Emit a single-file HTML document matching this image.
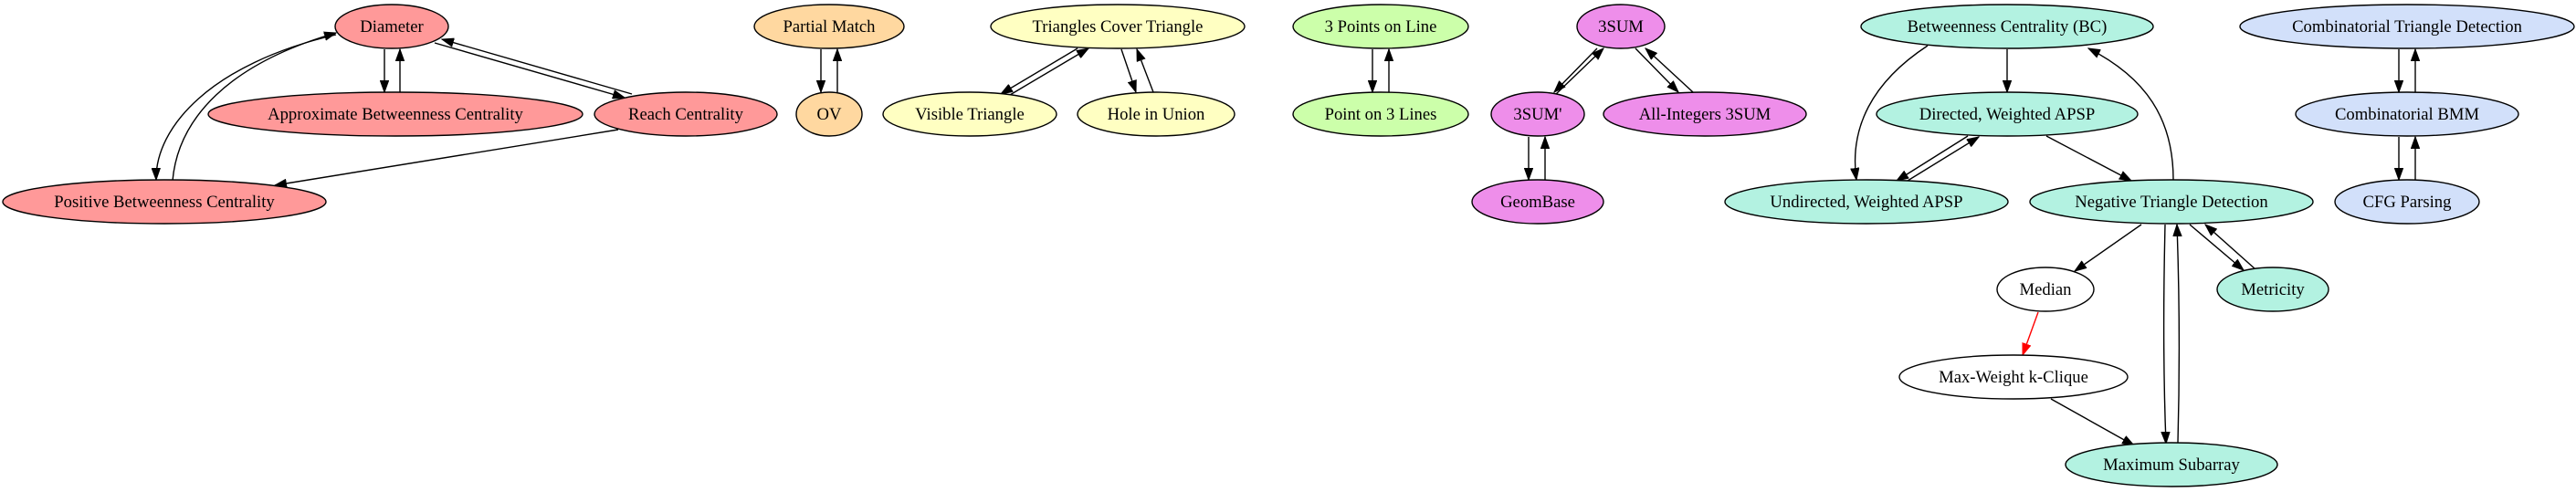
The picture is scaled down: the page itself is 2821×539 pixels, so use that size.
<!DOCTYPE html>
<html><head><meta charset="utf-8"><style>
html,body{margin:0;padding:0;background:#fff;}
svg{display:block;}
text{font-family:"Liberation Serif",serif;font-size:18.67px;text-anchor:middle;fill:#000;}
ellipse{stroke:#000;stroke-width:1.4;}
path{fill:none;stroke:#000;stroke-width:1.4;}
</style></head><body>
<svg width="2821" height="539" viewBox="0 0 2821 539" xmlns="http://www.w3.org/2000/svg">
<defs>
<marker id="a" markerUnits="userSpaceOnUse" markerWidth="14" markerHeight="10" refX="13" refY="5" orient="auto"><path d="M0,0.3 L13,5 L0,9.7 Z" style="fill:#000;stroke:#000;stroke-width:1"/></marker>
<marker id="r" markerUnits="userSpaceOnUse" markerWidth="14" markerHeight="10" refX="13" refY="5" orient="auto"><path d="M0,0.3 L13,5 L0,9.7 Z" style="fill:#f00;stroke:#f00;stroke-width:1"/></marker>
</defs>
<g marker-end="url(#a)">
<!-- left cluster -->
<path d="M421,54 L421,101"/>
<path d="M438,101 L438,54"/>
<path d="M476,47 L684,107"/>
<path d="M692,103 L484,43"/>
<path d="M368,38 C230,70 170,140 171,197"/>
<path d="M189,198 C195,130 250,70 368,36"/>
<path d="M677,142 L301,203"/>
<!-- partial/OV -->
<path d="M899,54 L899,101"/>
<path d="M917,101 L917,54"/>
<!-- triangles -->
<path d="M1180,53 L1096,103"/>
<path d="M1106,104 L1192,53"/>
<path d="M1228,54 L1244,101"/>
<path d="M1263,101 L1245,54"/>
<!-- points -->
<path d="M1503,54 L1503,101"/>
<path d="M1521,101 L1521,54"/>
<!-- 3SUM -->
<path d="M1749,53 L1702,101"/>
<path d="M1703,104 L1756,53"/>
<path d="M1791,53 L1838,101"/>
<path d="M1854,101 L1802,53"/>
<path d="M1674,150 L1674,197"/>
<path d="M1692,197 L1692,150"/>
<!-- right cluster -->
<path d="M2198,54 L2198,101"/>
<path d="M2111,50 C2050,90 2025,140 2033,197"/>
<path d="M2155,149 L2077,198"/>
<path d="M2089,198 L2167,150"/>
<path d="M2241,149 L2334,198"/>
<path d="M2380,197 C2380,130 2350,85 2287,53"/>
<path d="M2345,246 L2272,297"/>
<path d="M2398,246 L2457,296"/>
<path d="M2470,295 L2415,246"/>
<path d="M2371,246 C2369,330 2369,410 2372,486"/>
<path d="M2385,485 C2387,410 2387,330 2384,246"/>
<path d="M2246,437 L2337,488"/>
<!-- blue -->
<path d="M2627,54 L2627,101"/>
<path d="M2645,101 L2645,54"/>
<path d="M2627,150 L2627,197"/>
<path d="M2645,197 L2645,150"/>
</g>
<path d="M2232,342 L2215,389" style="stroke:#f00" marker-end="url(#r)"/>

<g>
<ellipse cx="429" cy="29" rx="62" ry="24" fill="#ff9999"/><text x="429" y="35">Diameter</text>
<ellipse cx="433" cy="125" rx="205" ry="24" fill="#ff9999"/><text x="433" y="131">Approximate Betweenness Centrality</text>
<ellipse cx="751" cy="125" rx="100" ry="24" fill="#ff9999"/><text x="751" y="131">Reach Centrality</text>
<ellipse cx="180" cy="221" rx="177" ry="24" fill="#ff9999"/><text x="180" y="227">Positive Betweenness Centrality</text>
<ellipse cx="908" cy="29" rx="82" ry="24" fill="#ffd8a0"/><text x="908" y="35">Partial Match</text>
<ellipse cx="908" cy="125" rx="36" ry="24" fill="#ffd8a0"/><text x="908" y="131">OV</text>
<ellipse cx="1224" cy="29" rx="139" ry="24" fill="#ffffc2"/><text x="1224" y="35">Triangles Cover Triangle</text>
<ellipse cx="1062" cy="125" rx="95" ry="24" fill="#ffffc2"/><text x="1062" y="131">Visible Triangle</text>
<ellipse cx="1266" cy="125" rx="86" ry="24" fill="#ffffc2"/><text x="1266" y="131">Hole in Union</text>
<ellipse cx="1512" cy="29" rx="96" ry="24" fill="#ccffaa"/><text x="1512" y="35">3 Points on Line</text>
<ellipse cx="1512" cy="125" rx="96" ry="24" fill="#ccffaa"/><text x="1512" y="131">Point on 3 Lines</text>
<ellipse cx="1775" cy="29" rx="48" ry="24" fill="#ee8eea"/><text x="1775" y="35">3SUM</text>
<ellipse cx="1684" cy="125" rx="51" ry="24" fill="#ee8eea"/><text x="1684" y="131">3SUM'</text>
<ellipse cx="1867" cy="125" rx="111" ry="24" fill="#ee8eea"/><text x="1867" y="131">All-Integers 3SUM</text>
<ellipse cx="1684" cy="221" rx="72" ry="24" fill="#ee8eea"/><text x="1684" y="227">GeomBase</text>
<ellipse cx="2198" cy="29" rx="160" ry="24" fill="#b3f2e1"/><text x="2198" y="35">Betweenness Centrality (BC)</text>
<ellipse cx="2198" cy="125" rx="143" ry="24" fill="#b3f2e1"/><text x="2198" y="131">Directed, Weighted APSP</text>
<ellipse cx="2044" cy="221" rx="155" ry="24" fill="#b3f2e1"/><text x="2044" y="227">Undirected, Weighted APSP</text>
<ellipse cx="2378" cy="221" rx="155" ry="24" fill="#b3f2e1"/><text x="2378" y="227">Negative Triangle Detection</text>
<ellipse cx="2240" cy="317" rx="53" ry="24" fill="#ffffff"/><text x="2240" y="323">Median</text>
<ellipse cx="2489" cy="317" rx="61" ry="24" fill="#b3f2e1"/><text x="2489" y="323">Metricity</text>
<ellipse cx="2205" cy="413" rx="125" ry="24" fill="#ffffff"/><text x="2205" y="419">Max-Weight k-Clique</text>
<ellipse cx="2378" cy="509" rx="116" ry="24" fill="#b3f2e1"/><text x="2378" y="515">Maximum Subarray</text>
<ellipse cx="2636" cy="29" rx="183" ry="24" fill="#d2e0fa"/><text x="2636" y="35">Combinatorial Triangle Detection</text>
<ellipse cx="2636" cy="125" rx="122" ry="24" fill="#d2e0fa"/><text x="2636" y="131">Combinatorial BMM</text>
<ellipse cx="2636" cy="221" rx="79" ry="24" fill="#d2e0fa"/><text x="2636" y="227">CFG Parsing</text>
</g>
</svg>
</body></html>
